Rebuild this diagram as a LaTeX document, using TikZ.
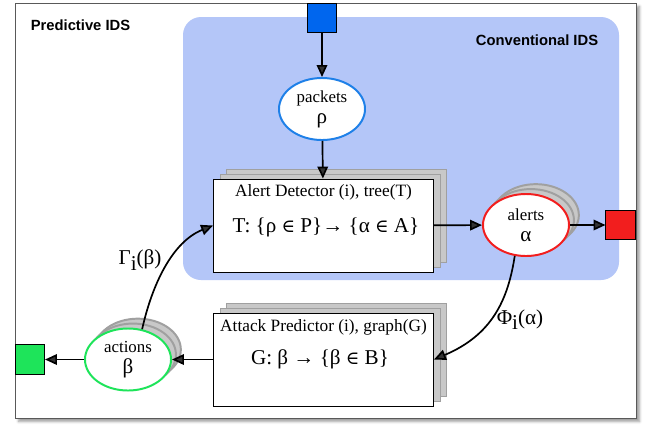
\documentclass[tikz,border=0pt]{standalone}
\usepackage{fontspec}
\setmainfont{Liberation Serif}
\setsansfont{Liberation Sans}
\newfontfamily\symfont{DejaVu Serif}
\usetikzlibrary{shapes.geometric, arrows.meta, shadows, shadows.blur}

\definecolor{convblue}{RGB}{180,198,248}
\definecolor{inblue}{RGB}{0,102,238}
\definecolor{pktblue}{RGB}{30,128,232}
\definecolor{alertred}{RGB}{242,30,30}
\definecolor{actgreen}{RGB}{30,228,90}
\definecolor{stackfill}{RGB}{200,200,200}
\definecolor{stackdraw}{RGB}{160,160,160}

\newcommand{\inel}{{\symfont\fontsize{13}{13}\selectfont ∈}}

\begin{document}
\begin{tikzpicture}[x=0.025cm, y=-0.025cm,
  >={Triangle[length=8.5pt,width=7.5pt]},
  flow/.style={->, line width=1.2pt},
  portsq/.style={draw, line width=0.6pt, minimum size=0.73cm, inner sep=0},
  procbox/.style={draw, line width=0.6pt, fill=white, inner sep=0,
    minimum width=5.5cm, minimum height=2.325cm,
    copy shadow={shadow xshift=9.2pt, shadow yshift=7pt, fill=stackfill, draw=stackdraw},
    copy shadow={shadow xshift=4.6pt, shadow yshift=3.5pt, fill=stackfill, draw=stackdraw}},
  stateell/.style={ellipse, draw, line width=1.4pt, fill=white, inner sep=0,
    minimum width=2.15cm, minimum height=1.55cm, align=center,
    font=\fontsize{12}{14}\selectfont},
  stackell/.style={
    copy shadow={shadow xshift=7pt, shadow yshift=7pt, fill=stackfill, draw=stackdraw},
    copy shadow={shadow xshift=3.5pt, shadow yshift=3.5pt, fill=stackfill, draw=stackdraw}},
  boxhead/.style={font=\fontsize{12.3}{14}\selectfont},
  boxmap/.style={font=\fontsize{15}{17}\selectfont},
  arclbl/.style={font=\fontsize{15}{17}\selectfont},
  areatitle/.style={font=\sffamily\bfseries\fontsize{10.5}{12}\selectfont}]
  \useasboundingbox (0,0) rectangle (653,424);
  %
  \draw[draw=black!65, fill=white, line width=0.6pt,
    blur shadow={shadow xshift=2.5pt, shadow yshift=-2.5pt, shadow blur steps=6}]
    (15,3) rectangle (636,418);
  \fill[convblue, rounded corners=0.45cm] (183,17) rectangle (619,280);
  \node[areatitle] (predtitle) at (80.5,25) {Predictive IDS};
  \node[areatitle] (convtitle) at (537,40) {Conventional IDS};
  %
  \node[portsq, fill=inblue] (pktin) at (322,18) {};
  \node[stateell, draw=pktblue] (packets) at (322,109) {packets\\[1pt]{\fontsize{15}{15}\selectfont ρ}};
  %
  \node[procbox] (detector) at (323.5,225.5) {};
  \node[boxhead] (detectorhead) at (323.5,192) {Alert Detector (i), tree(T)};
  \node[boxmap] (detectormap) at (326,227) {T: \{ρ \inel{} P\}→ \{α \inel{} A\}};
  %
  \node[stateell, stackell, draw=alertred] (alerts) at (526,225) {alerts\\[1pt]{\fontsize{15}{15}\selectfont α}};
  \node[portsq, fill=alertred] (alertout) at (620.5,225) {};
  %
  \node[procbox] (predictor) at (323.5,359.5) {};
  \node[boxhead] (predictorhead) at (323.5,327) {Attack Predictor (i), graph(G)};
  \node[boxmap] (predictormap) at (320,359) {G: β → \{β \inel{} B\}};
  %
  \node[stateell, stackell, draw=actgreen] (actions) at (128,359.5) {actions\\[1pt]{\fontsize{15}{15}\selectfont β}};
  \node[portsq, fill=actgreen] (actout) at (30,359.5) {};
  %
  \node[arclbl] (gammalbl) at (140,260) {Γ\raisebox{-.55ex}{i}(β)};
  \node[arclbl] (philbl) at (520,320) {Φ\raisebox{-.55ex}{i}(α)};
  %
  \draw[flow] (pktin) -- (packets);
  \draw[flow] (packets) -- (detector);
  \draw[flow] (detector) -- (alerts);
  \draw[flow] (alerts) -- (alertout);
  \draw[flow] (alerts.250) .. controls (508,300) and (492,335) .. (predictor.east);
  \draw[flow] (predictor) -- (actions);
  \draw[flow] (actions) -- (actout);
  \draw[flow] (actions.65) .. controls (152,285) and (172,242) .. (detector.west);
\end{tikzpicture}
\end{document}
